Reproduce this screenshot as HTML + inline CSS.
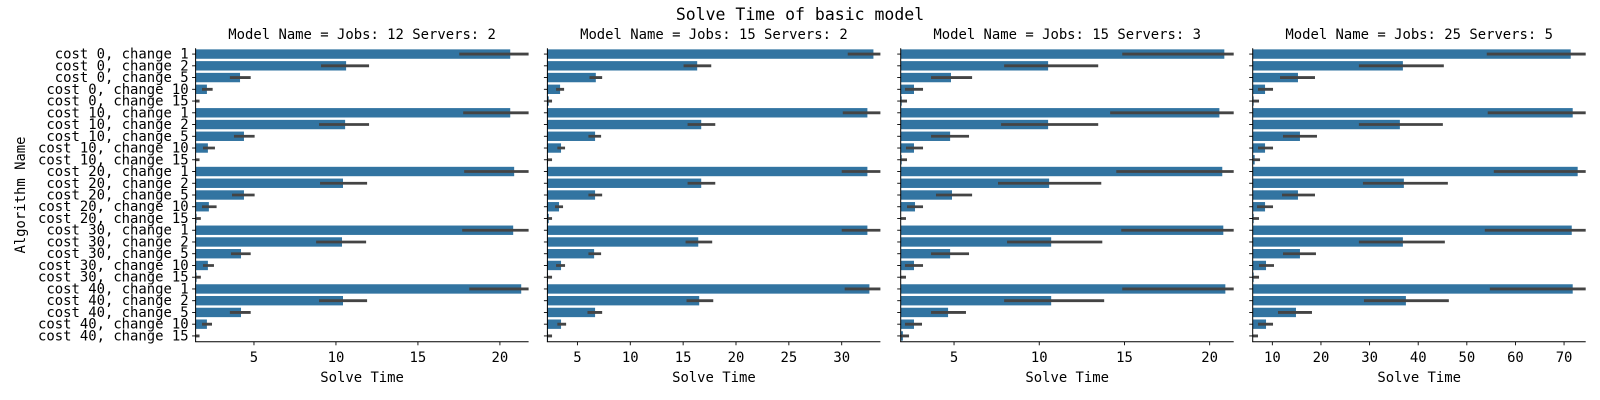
<!DOCTYPE html>
<html><head><meta charset="utf-8">
<style>
html,body{margin:0;padding:0;background:#fff;}
svg{display:block;font-family:"DejaVu Sans Mono","Liberation Mono",monospace;}
</style></head>
<body>
<svg id="chart" width="1600" height="400" viewBox="0 0 1600 400" xmlns="http://www.w3.org/2000/svg">
<text x="800" y="20" font-size="16.5" text-anchor="middle" fill="#000">Solve Time of basic model</text>
<text transform="translate(25,195) rotate(-90)" font-size="13.9" text-anchor="middle" fill="#000">Algorithm Name</text>
</svg>
<script>
const categories = ["cost 0, change 1","cost 0, change 2","cost 0, change 5","cost 0, change 10","cost 0, change 15","cost 10, change 1","cost 10, change 2","cost 10, change 5","cost 10, change 10","cost 10, change 15","cost 20, change 1","cost 20, change 2","cost 20, change 5","cost 20, change 10","cost 20, change 15","cost 30, change 1","cost 30, change 2","cost 30, change 5","cost 30, change 10","cost 30, change 15","cost 40, change 1","cost 40, change 2","cost 40, change 5","cost 40, change 10","cost 40, change 15"];
const panelTitles = ["Model Name = Jobs: 12 Servers: 2","Model Name = Jobs: 15 Servers: 2","Model Name = Jobs: 15 Servers: 3","Model Name = Jobs: 25 Servers: 5"];
const xDomains = [[1.44,21.75],[2.16,33.66],[1.87,21.41],[5.96,74.45]];
const xTicks = [[5,10,15,20],[5,10,15,20,25,30],[5,10,15,20],[10,20,30,40,50,60,70]];

const mean1 = [20.63,10.62,4.15,2.13,1.4,20.63,10.56,4.39,2.19,1.4,20.87,10.43,4.39,2.25,1.5,20.81,10.37,4.21,2.19,1.5,21.3,10.43,4.21,2.13,1.4];
const lo1 = [17.52,9.09,3.53,1.83,1.2,17.76,8.97,3.78,1.89,1.2,17.82,9.03,3.66,1.83,1.3,17.7,8.79,3.6,1.89,1.3,18.13,8.97,3.53,1.83,1.2];
const hi1 = [21.9,12.02,4.8,2.48,1.68,21.9,12.02,5.04,2.62,1.68,21.9,11.9,5.04,2.72,1.76,21.9,11.84,4.8,2.56,1.76,21.9,11.9,4.8,2.44,1.68];

const mean2 = [33.0,16.33,6.74,3.36,2.29,32.43,16.71,6.67,3.45,2.22,32.43,16.71,6.67,3.26,2.29,32.43,16.43,6.58,3.45,2.22,32.62,16.52,6.67,3.45,2.22];
const lo2 = [30.57,15.04,6.14,2.98,2.1,30.1,15.42,6.04,3.1,2.1,30.0,15.42,6.04,2.88,2.1,30.0,15.23,6.04,2.98,2.1,30.28,15.32,5.95,3.1,2.1];
const hi2 = [33.9,17.66,7.34,3.74,2.6,33.9,18.04,7.24,3.83,2.6,33.9,18.04,7.34,3.64,2.6,33.9,17.75,7.24,3.83,2.6,33.9,17.85,7.34,3.93,2.6];

const mean3 = [20.86,10.52,4.82,2.65,1.93,20.57,10.52,4.77,2.65,1.93,20.74,10.58,4.88,2.71,1.8,20.8,10.7,4.77,2.65,1.8,20.92,10.7,4.65,2.65,2.0];
const lo3 = [14.87,7.94,3.65,2.12,1.7,14.16,7.76,3.65,2.18,1.7,14.52,7.58,3.94,2.24,1.6,14.81,8.11,3.65,2.12,1.6,14.87,7.94,3.65,2.12,1.87];
const hi3 = [21.6,13.46,6.06,3.18,2.24,21.6,13.46,5.88,3.18,2.24,21.6,13.64,6.06,3.18,2.18,21.6,13.7,5.88,3.18,2.18,21.6,13.81,5.7,3.12,2.36];

const mean4 = [71.37,36.85,15.27,8.5,6.16,71.78,36.23,15.68,8.5,6.37,72.8,37.05,15.27,8.5,6.16,71.58,36.85,15.68,8.7,6.16,71.78,37.47,14.86,8.7,6.0];
const lo4 = [54.1,27.8,11.58,7.05,5.9,54.3,27.8,12.19,7.05,5.9,55.55,28.63,11.99,6.85,5.9,53.7,27.8,12.19,7.26,5.9,54.73,28.84,11.16,7.05,5.8];
const hi4 = [74.6,45.27,18.77,10.14,7.26,74.6,45.07,19.18,10.14,7.47,74.6,46.1,18.77,10.14,7.26,74.6,45.48,18.97,10.34,7.26,74.6,46.3,18.15,10.14,7.05];

const means = [mean1,mean2,mean3,mean4];
const lows = [lo1,lo2,lo3,lo4];
const highs = [hi1,hi2,hi3,hi4];

const NS = "http://www.w3.org/2000/svg";
const svg = document.getElementById("chart");
const panelLeft = [195.6,547.4,900.7,1252.7];
const panelW = 333;
const yTop = 48.2, yBot = 341.8;
const step = (yBot - yTop) / categories.length;
function mk(tag, attrs){const e=document.createElementNS(NS,tag);for(const k in attrs)e.setAttribute(k,attrs[k]);return e;}

const defs = mk("defs",{});
svg.appendChild(defs);

for (let p = 0; p < 4; p++) {
  const L = panelLeft[p], R = L + panelW;
  const d = xDomains[p];
  const xs = v => L + (v - d[0]) / (d[1] - d[0]) * panelW;
  const yc = i => yTop + step * (i + 0.5);
  const cp = mk("clipPath",{id:"clip"+p});
  cp.appendChild(mk("rect",{x:L,y:yTop,width:panelW,height:yBot-yTop}));
  defs.appendChild(cp);
  const g = mk("g",{"clip-path":"url(#clip"+p+")"});
  
  
  svg.appendChild(g);
  const bh = step * 0.8;
  for (let i = 0; i < categories.length; i++) {
    const x0 = xs(0), x1 = xs(means[p][i]);
    const r = mk("rect",{x:x0,y:yc(i)-bh/2,width:Math.max(0,x1-x0),height:bh,fill:"#3274a1"});
    
    
    g.appendChild(r);
  }
  for (let i = 0; i < categories.length; i++) {
    const l = mk("line",{x1:xs(lows[p][i]),x2:xs(highs[p][i]),y1:yc(i),y2:yc(i),stroke:"#444444","stroke-width":2.8});
    
    
    g.appendChild(l);
  }
  // spines
  const sl = mk("line",{x1:L,x2:L,y1:yTop,y2:yBot,stroke:"#000","stroke-width":1});
  
  
  svg.appendChild(sl);
  const sb = mk("line",{x1:L-0.5,x2:R,y1:yBot,y2:yBot,stroke:"#000","stroke-width":1});
  
  
  svg.appendChild(sb);
  // y ticks
  for (let i = 0; i < categories.length; i++) {
    const t = mk("line",{x1:L-3.5,x2:L,y1:yc(i),y2:yc(i),stroke:"#000","stroke-width":0.9});
    
    
    svg.appendChild(t);
    if (p === 0) {
      const tx = mk("text",{x:L-7,y:yc(i)+4.5,"font-size":13.9,"text-anchor":"end",fill:"#000"});
      tx.textContent = categories[i];
      
      
      svg.appendChild(tx);
    }
  }
  // x ticks
  xTicks[p].forEach(v => {
    const x = xs(v);
    const t = mk("line",{x1:x,x2:x,y1:yBot,y2:yBot+3.5,stroke:"#000","stroke-width":0.9});
    
    
    svg.appendChild(t);
    const tx = mk("text",{x:x,y:yBot+20,"font-size":13.9,"text-anchor":"middle",fill:"#000"});
    tx.textContent = v;
    
    
    svg.appendChild(tx);
  });
  const xl = mk("text",{x:(L+R)/2,y:382,"font-size":13.9,"text-anchor":"middle",fill:"#000"});
  xl.textContent = "Solve Time";
  
  
  svg.appendChild(xl);
  const pt = mk("text",{x:(L+R)/2,y:39,"font-size":13.9,"text-anchor":"middle",fill:"#000"});
  pt.textContent = panelTitles[p];
  
  
  svg.appendChild(pt);
}
</script>
</body></html>
